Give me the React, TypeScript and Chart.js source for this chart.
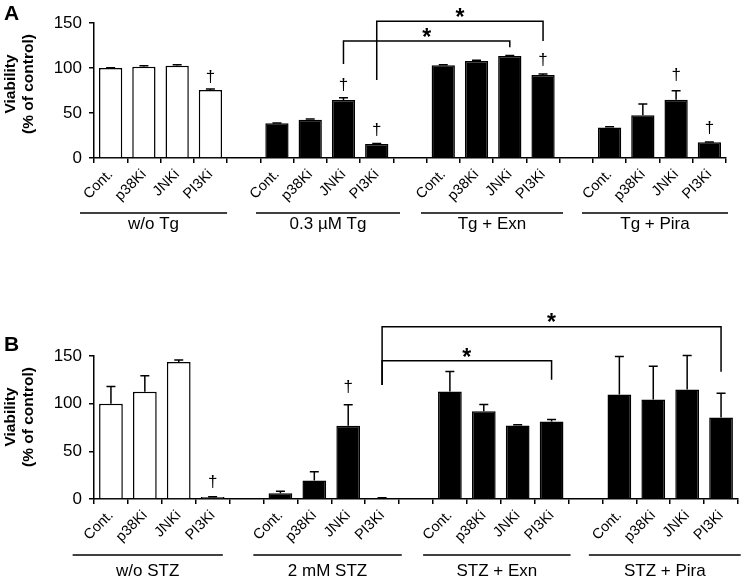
import React, { useEffect, useRef } from "react";
import { Chart, registerables } from "chart.js";
Chart.register(...registerables);

const FONT = "'Liberation Sans', Arial, Helvetica, sans-serif";

const categories = [
  "Cont.", "p38Ki", "JNKi", "PI3Ki", "",
  "Cont.", "p38Ki", "JNKi", "PI3Ki", "",
  "Cont.", "p38Ki", "JNKi", "PI3Ki", "",
  "Cont.", "p38Ki", "JNKi", "PI3Ki",
];
const yTicks = [0, 50, 100, 150];

const groupLabelsA = ["w/o Tg", "0.3 µM Tg", "Tg + Exn", "Tg + Pira"];
const viabilityA = [100, 101.5, 102.6, 75.6, null, 38.5, 42.6, 64.4, 15.6, null, 103, 107.8, 113.3, 92.2, null, 34, 47.4, 64.8, 17.4];
const errorA = [0.4, 1, 1, 1, null, 0.4, 0.8, 2.5, 0.4, null, 0.5, 0.8, 0.5, 1, null, 0.6, 12.6, 10, 0.4];
const daggersA: [number, number][] = [[3, 90], [7, 81], [8, 31], [13, 108], [17, 92], [18, 33]];
const bracketsA = [
  { from: 7, to: 12, legFrom: 104.4, legTo: 123, top: 130, star: 140 },
  { from: 8, to: 13, legFrom: 86.7, legTo: 130, top: 152, star: 162 },
];

const groupLabelsB = ["w/o STZ", "2 mM STZ", "STZ + Exn", "STZ + Pira"];
const viabilityB = [100, 112.4, 143.8, 2, null, 6, 19.5, 76.8, 1, null, 112.7, 92, 77, 81.3, null, 109.5, 104.3, 114.8, 85.4];
const errorB = [18, 17, 2, 0.3, null, 2, 9, 22, 0.3, null, 21, 7, 0.8, 2, null, 40, 35, 35.6, 25.6];
const daggersB: [number, number][] = [[3, 17], [7, 117.6]];
const bracketsB = [
  { from: 8, to: 13, legFrom: 119.7, legTo: 125, top: 145, star: 154 },
  { from: 8, to: 18, legFrom: 119.7, legTo: 133.6, top: 180.7, star: 191 },
];

type Bracket = { from: number; to: number; legFrom: number; legTo: number; top: number; star: number };
type PanelDef = {
  letter: string;
  values: (number | null)[];
  errors: (number | null)[];
  groups: string[];
  groupSpans: [number, number][];
  daggers: [number, number][];
  brackets: Bracket[];
  height: number;
  padding: { top: number; right: number; bottom: number; left: number };
  lineY: number;
  labelY: number;
  titleY: number;
  letterY: number;
};

const panelA: PanelDef = {
  letter: "A",
  values: viabilityA,
  errors: errorA,
  groups: groupLabelsA,
  groupSpans: [[-0.92, 3.5], [4.37, 8.7], [9.33, 13.6], [14.17, 18.56]],
  daggers: daggersA,
  brackets: bracketsA,
  height: 290,
  padding: { top: 23, right: 19, bottom: 49, left: 0 },
  lineY: 213,
  labelY: 224,
  titleY: 84,
  letterY: 14,
};

const panelB: PanelDef = {
  letter: "B",
  values: viabilityB,
  errors: errorB,
  groups: groupLabelsB,
  groupSpans: [[-1.13, 3.3], [4.2, 8.58], [9.21, 13.56], [14.1, 18.58]],
  daggers: daggersB,
  brackets: bracketsB,
  height: 292,
  padding: { top: 66, right: 7, bottom: 0, left: 0 },
  lineY: 265,
  labelY: 281,
  titleY: 127,
  letterY: 55,
};

function makePlugin(p: PanelDef) {
  return {
    id: "annot" + p.letter,
    afterDatasetsDraw(chart: any) {
      const ctx = chart.ctx;
      const y = chart.scales.y;
      const meta = chart.getDatasetMeta(0);
      ctx.save();
      ctx.strokeStyle = "#000";
      ctx.lineWidth = 1.5;
      p.values.forEach((v, i) => {
        const e = p.errors[i];
        if (v == null || e == null) return;
        const x = meta.data[i].x;
        const y0 = y.getPixelForValue(v);
        const y1 = y.getPixelForValue(v + e);
        ctx.beginPath();
        ctx.moveTo(x, y0);
        ctx.lineTo(x, y1);
        ctx.moveTo(x - 4.5, y1);
        ctx.lineTo(x + 4.5, y1);
        ctx.stroke();
      });
      ctx.restore();
    },
    afterDraw(chart: any) {
      const ctx = chart.ctx;
      const xs = chart.scales.x;
      const ys = chart.scales.y;
      const px = (u: number) => xs.getPixelForValue(0) + u * (xs.getPixelForValue(1) - xs.getPixelForValue(0));
      ctx.save();
      ctx.fillStyle = "#000";
      ctx.strokeStyle = "#000";
      ctx.lineWidth = 1.5;
      ctx.font = `17px ${FONT}`;
      ctx.textAlign = "center";
      ctx.textBaseline = "middle";
      p.groupSpans.forEach(([a, b], gi) => {
        const xa = px(a), xb = px(b);
        ctx.beginPath();
        ctx.moveTo(xa, p.lineY);
        ctx.lineTo(xb, p.lineY);
        ctx.stroke();
        ctx.fillText(p.groups[gi], (xa + xb) / 2, p.labelY);
      });
      ctx.font = `17px ${FONT}`;
      p.daggers.forEach(([i, v]) => {
        ctx.fillText("†", px(i), ys.getPixelForValue(v));
      });
      ctx.lineWidth = 1.5;
      p.brackets.forEach((b) => {
        const xa = px(b.from), xb = px(b.to);
        const yt = ys.getPixelForValue(b.top);
        ctx.beginPath();
        ctx.moveTo(xa, ys.getPixelForValue(b.legFrom));
        ctx.lineTo(xa, yt);
        ctx.lineTo(xb, yt);
        ctx.lineTo(xb, ys.getPixelForValue(b.legTo));
        ctx.stroke();
        ctx.font = `bold 23px ${FONT}`;
        ctx.textBaseline = "alphabetic";
        ctx.fillText("*", (xa + xb) / 2, ys.getPixelForValue(b.star) + 13);
        ctx.textBaseline = "middle";
      });
      ctx.font = `bold 15.5px ${FONT}`;
      ctx.save();
      ctx.translate(11, p.titleY);
      ctx.rotate(-Math.PI / 2);
      ctx.fillText("Viability", 0, 0);
      ctx.restore();
      ctx.save();
      ctx.translate(29, p.titleY);
      ctx.rotate(-Math.PI / 2);
      ctx.fillText("(% of control)", 0, 0);
      ctx.restore();
      ctx.font = `bold 21px ${FONT}`;
      ctx.textAlign = "left";
      ctx.fillText(p.letter, 4, p.letterY);
      ctx.restore();
    },
  };
}

function Panel({ p }: { p: PanelDef }) {
  const ref = useRef<HTMLCanvasElement | null>(null);
  useEffect(() => {
    if (!ref.current) return;
    const chart = new Chart(ref.current, {
      type: "bar",
      data: {
        labels: categories,
        datasets: [
          {
            data: p.values as any,
            backgroundColor: categories.map((_, i) => (i < 4 ? "#ffffff" : "#000000")),
            borderColor: "#000",
            borderWidth: 1.5,
            barPercentage: 0.7,
            categoryPercentage: 1,
          },
        ],
      },
      options: {
        responsive: false,
        animation: false,
        devicePixelRatio: 1,
        layout: { padding: p.padding },
        plugins: { legend: { display: false }, tooltip: { enabled: false } },
        scales: {
          x: {
            afterFit: (s: any) => {
              s.height = 83;
            },
            ticks: {
              autoSkip: false,
              maxRotation: 45,
              minRotation: 45,
              color: "#000",
              padding: 3,
              font: { size: 14.5, family: FONT },
            },
            grid: {
              display: true,
              drawOnChartArea: false,
              drawTicks: true,
              tickLength: 5,
              color: "#000",
              lineWidth: 1.5,
              offset: true,
            },
            border: { display: true, color: "#000", width: 1.5 },
          },
          y: {
            min: 0,
            max: 150,
            afterFit: (s: any) => {
              s.width = 94;
            },
            afterBuildTicks: (s: any) => {
              s.ticks = yTicks.map((v) => ({ value: v }));
            },
            ticks: {
              color: "#000",
              padding: 7,
              font: { size: 17, family: FONT },
            },
            grid: {
              display: true,
              drawOnChartArea: false,
              drawTicks: true,
              tickLength: 5,
              color: "#000",
              lineWidth: 1.5,
            },
            border: { display: true, color: "#000", width: 1.5 },
          },
        },
      },
      plugins: [makePlugin(p)],
    });
    return () => chart.destroy();
  }, [p]);
  return <canvas ref={ref} width={745} height={p.height} style={{ display: "block", width: 745, height: p.height }} />;
}

export default function App() {
  return (
    <div style={{ position: "absolute", left: 0, top: 0, width: 745, height: 582, background: "#fff" }}>
      <Panel p={panelA} />
      <Panel p={panelB} />
    </div>
  );
}
